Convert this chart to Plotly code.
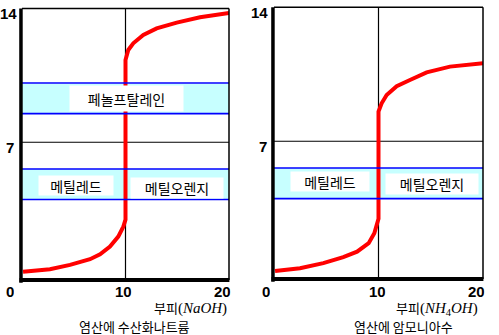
import plotly.graph_objects as go

W, H = 499, 335

# Titration curves: volume of base added (mL) vs pH
vol_naoh = [0.1, 2.7, 4.64, 6.57, 7.54, 8.5, 9.3, 9.79, 10.0, 10.0, 10.27, 10.75, 11.72, 13.01, 14.95, 17.2, 20.0]
ph_naoh = [0.22, 0.35, 0.58, 0.88, 1.14, 1.54, 2.06, 2.58, 2.95, 11.3, 11.83, 12.18, 12.61, 12.96, 13.26, 13.54, 13.76]

vol_nh3 = [0.1, 2.49, 4.72, 6.63, 7.95, 9.06, 9.6, 9.92, 10.0, 10.0, 10.3, 10.78, 11.74, 13.01, 14.61, 16.84, 20.0]
ph_nh3 = [0.22, 0.36, 0.63, 0.94, 1.23, 1.67, 2.19, 2.71, 2.95, 8.55, 8.98, 9.42, 9.88, 10.2, 10.6, 10.9, 11.07]

x_ticks = [0, 10, 20]
x_tick_text = ["0", "10", "20"]
y_ticks = [7, 14]
y_tick_text = ["7", "14"]

# Indicator transition ranges (pH)
phenol_range = [8.5, 10.1]
methyl_range = [4.0, 5.6]

phenol_label = "페놀프탈레인"
methyl_red_label = "메틸레드"
methyl_orange_label = "메틸오렌지"
titles = ["염산에 수산화나트륨", "염산에 암모니아수"]
vol_labels = [
    '부피<span style="font-family:Liberation Serif;font-size:15px">(<i>NaOH</i>)</span>',
    '부피<span style="font-family:Liberation Serif;font-size:15px">(<i>NH</i><sub>4</sub><i>OH</i>)</span>',
]

KFONT = "Noto Sans CJK KR"
CYAN = "#00ffff"
BLUE = "#0000ff"

fig = go.Figure()


def band(xa, ya, lo, hi):
    fig.add_trace(go.Bar(
        x=[10], y=[hi - lo], base=[lo], width=[20],
        xaxis=xa, yaxis=ya,
        marker=dict(color="white", line=dict(width=0),
                    pattern=dict(shape=".", fgcolor=CYAN, bgcolor="white",
                                 size=2, solidity=0.5, fillmode="overlay")),
        hoverinfo="skip", showlegend=False,
    ))


# left panel: strong base
band("x", "y", *phenol_range)
band("x", "y", *methyl_range)
# right panel: weak base
band("x2", "y2", *methyl_range)

fig.add_trace(go.Scatter(x=vol_naoh, y=ph_naoh, xaxis="x", yaxis="y", mode="lines",
                         line=dict(color="#ff0000", width=4), showlegend=False))
fig.add_trace(go.Scatter(x=vol_nh3, y=ph_nh3, xaxis="x2", yaxis="y2", mode="lines",
                         line=dict(color="#ff0000", width=4), showlegend=False))

shapes = []
for xr, yr, bands in [("x", "y", [phenol_range, methyl_range]), ("x2", "y2", [methyl_range])]:
    # neutral line and equivalence-point line
    shapes.append(dict(type="line", xref=xr, yref=yr, x0=0, x1=20, y0=7, y1=7,
                       line=dict(color="black", width=1.2), layer="below"))
    shapes.append(dict(type="line", xref=xr, yref=f"{yr} domain", x0=10, x1=10, y0=0, y1=1,
                       line=dict(color="black", width=1.2), layer="below"))
    for lo, hi in bands:
        for v in (lo, hi):
            shapes.append(dict(type="line", xref=xr, yref=yr, x0=0, x1=20, y0=v, y1=v,
                               line=dict(color=BLUE, width=1.6)))
    # frame: thin top/right, thick left/bottom
    shapes.append(dict(type="line", xref=f"{xr} domain", yref=f"{yr} domain", x0=0, x1=1, y0=1, y1=1,
                       line=dict(color="black", width=1.5)))
    shapes.append(dict(type="line", xref=f"{xr} domain", yref=f"{yr} domain", x0=1, x1=1, y0=0, y1=1,
                       line=dict(color="black", width=1.5)))
    shapes.append(dict(type="line", xref=f"{xr} domain", yref=f"{yr} domain", x0=-0.005, x1=-0.005, y0=-0.01, y1=1,
                       line=dict(color="black", width=3.5)))
    shapes.append(dict(type="line", xref=f"{xr} domain", yref=f"{yr} domain", x0=-0.012, x1=1.002, y0=0, y1=0,
                       line=dict(color="black", width=4)))

annotations = []


def label(text, xr, yr, x, y, w, h, size=14):
    annotations.append(dict(text=text, xref=xr, yref=yr, x=x, y=y, showarrow=False,
                            xanchor="center", yanchor="middle", width=w, height=h,
                            bgcolor="white", font=dict(family=KFONT, size=size, color="black")))


mid = lambda r: (r[0] + r[1]) / 2
label(phenol_label, "x", "y", 10.1, mid(phenol_range), 111, 23)
label(methyl_red_label, "x", "y", 5.2, mid(methyl_range) - 0.05, 72, 17)
label(methyl_orange_label, "x", "y", 14.95, mid(methyl_range) - 0.2, 90, 18)
label(methyl_red_label, "x2", "y2", 5.4, mid(methyl_range) + 0.1, 76, 17)
label(methyl_orange_label, "x2", "y2", 15.1, mid(methyl_range) - 0.05, 90, 18)

tick_font = dict(family="Liberation Sans", size=15, color="black")
x_shifts = [[-12, -2, -7], [-8, -1, -7]]
for i, xr in enumerate(["x", "x2"]):
    for v, t, s in zip(x_ticks, x_tick_text, x_shifts[i]):
        annotations.append(dict(text=f"<b>{t}</b>", xref=xr, yref="paper", x=v, y=1 - 291 / H,
                                xshift=s, showarrow=False, xanchor="center", yanchor="middle",
                                height=15, font=tick_font))
y_label_x = [[9.5, 8.3], [263, 259]]
for i, (xr, yr) in enumerate([("x", "y"), ("x2", "y2")]):
    for v, t, px in zip(y_ticks, y_tick_text, y_label_x[i]):
        annotations.append(dict(text=f"<b>{t}</b>", xref="paper", yref=yr, x=px / W, y=v,
                                yshift=-5, showarrow=False, xanchor="center", yanchor="middle",
                                font=tick_font))

# axis captions
cap_font = dict(family=KFONT, size=13, color="black")
annotations.append(dict(text=vol_labels[0], xref="paper", yref="paper", x=190 / W, y=1 - 307.5 / H,
                        showarrow=False, xanchor="center", yanchor="middle", font=cap_font))
annotations.append(dict(text=vol_labels[1], xref="paper", yref="paper", x=437 / W, y=1 - 307.5 / H,
                        showarrow=False, xanchor="center", yanchor="middle", font=cap_font))
annotations.append(dict(text=titles[0], xref="paper", yref="paper", x=134 / W, y=1 - 326 / H,
                        showarrow=False, xanchor="center", yanchor="middle", font=cap_font))
annotations.append(dict(text=titles[1], xref="paper", yref="paper", x=403 / W, y=1 - 326 / H,
                        showarrow=False, xanchor="center", yanchor="middle", font=cap_font))

axis_common = dict(showgrid=False, zeroline=False, showticklabels=False, ticks="", showline=False)
fig.update_layout(
    width=W, height=H,
    margin=dict(l=0, r=0, t=0, b=0),
    paper_bgcolor="white", plot_bgcolor="white",
    barmode="overlay", bargap=0,
    xaxis=dict(domain=[22 / W, 229 / W], range=[0, 20], anchor="y", **axis_common),
    yaxis=dict(domain=[1 - 280 / H, 1 - 8.5 / H], range=[-0.21, 14], anchor="x", **axis_common),
    xaxis2=dict(domain=[274 / W, 483 / W], range=[0, 20], anchor="y2", **axis_common),
    yaxis2=dict(domain=[1 - 279 / H, 1 - 7.3 / H], range=[-0.2, 14], anchor="x2", **axis_common),
    shapes=shapes,
    annotations=annotations,
)

fig.write_html("out.html")
